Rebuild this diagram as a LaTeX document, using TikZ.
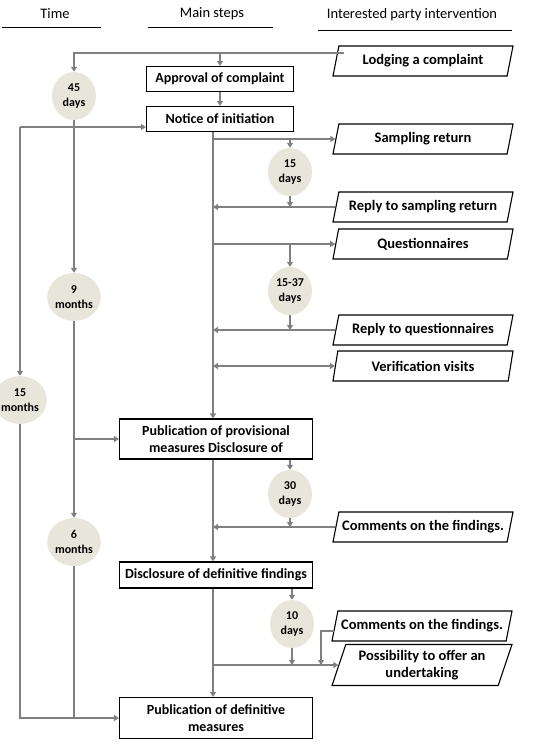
\documentclass[tikz,border=0pt]{standalone}
\usepackage{fontspec}
\setmainfont{Carlito}
\usetikzlibrary{shapes.geometric,arrows.meta}
\tikzset {>={Triangle[length=5pt,width=6pt]}}
\definecolor{flowgray}{RGB}{128,128,128}
\definecolor{timefill}{RGB}{232,229,218}

\begin{document}
\begin{tikzpicture}[x=1pt,y=-1pt,
  flow/.style={draw=flowgray,line width=2.4pt},
  stepbox/.style={draw,line width=1.1pt,rectangle,inner sep=1pt,align=center,
    font=\fontsize{14}{17}\selectfont\bfseries},
  party/.style={draw,line width=1.1pt,trapezium,trapezium left angle=65,
    trapezium right angle=115,trapezium stretches body=true,minimum width=180pt,
    minimum height=30pt,inner sep=0pt,align=center,font=\fontsize{14.5}{17}\selectfont\bfseries},
  period/.style={ellipse,fill=timefill,minimum width=44pt,minimum height=48pt,
    inner sep=0pt,align=center,font=\fontsize{12}{15}\selectfont\bfseries},
  head/.style={font=\fontsize{14.5}{17}\selectfont}]
\useasboundingbox (0,0) rectangle (549,756);
% headings
\node[head] (htime) at (55,14) {Time};
\node[head] (hmain) at (212,14) {Main steps};
\node[head] (hparty) at (412,15) {Interested party intervention};
\draw[line width=1pt] (2,27) -- (101,27);
\draw[line width=1pt] (148,27) -- (273,27);
\draw[line width=1pt] (318,30) -- (512,30);
% main steps
\node[stepbox,minimum width=147pt,minimum height=25pt] (approval) at (220,79) {Approval of complaint};
\node[stepbox,minimum width=147pt,minimum height=25pt] (notice) at (220,119) {Notice of initiation};
\node[stepbox,minimum width=193pt,minimum height=40pt] (prov) at (216,439) {Publication of provisional\\measures Disclosure of};
\node[stepbox,minimum width=193pt,minimum height=26pt] (disc) at (216,575) {Disclosure of definitive findings};
\node[stepbox,minimum width=193pt,minimum height=41pt] (pubdef) at (216,718) {Publication of definitive\\measures};
% interested parties
\node[party] (lodge) at (423,61) {Lodging a complaint};
\node[party] (samp) at (423,139) {Sampling return};
\node[party] (reply1) at (423,207) {Reply to sampling return};
\node[party] (quest) at (423,244) {Questionnaires};
\node[party] (reply2) at (423,330) {Reply to questionnaires};
\node[party] (verif) at (423,366) {Verification visits};
\node[party] (com1) at (423,527) {Comments on the findings.};
\node[party] (com2) at (422,626) {Comments on the findings.};
\node[party,minimum height=41pt] (offer) at (422,665) {Possibility to offer an\\undertaking};
% time periods
\node[period] (d45) at (74,96) {45\\days};
\node[period] (m9) at (74,297) {9\\months};
\node[period] (m15) at (20,400) {15\\months};
\node[period] (m6) at (74,542) {6\\months};
\node[period] (d15) at (290,172) {15\\days};
\node[period] (d1537) at (290,291) {15-37\\days};
\node[period] (d30) at (290,494) {30\\days};
\node[period] (d10) at (292,624) {10\\days};
\coordinate (spine) at (213,0);
\coordinate (lodgeout) at (344,53);
\coordinate (split) at (20,127);
\coordinate (kink) at (321,0);
% connectors
\begin{scope}[flow]
\draw[->] (lodgeout) -| (d45.north);
\draw[->] (approval.north |- lodgeout) -- (approval.north);
\draw[->] (approval) -- (notice);
\draw[->] (d45) -- (m9);
\draw[->] (split) -- (notice.west |- split);
\draw[->] (split) -- (m15.north);
\draw[->] (notice.south -| spine) -- (prov.north -| spine);
\draw[->] (spine |- samp.west) -- (samp.west);
\draw[->] (d15.north |- samp.west) -- (d15.north);
\draw[->] (d15.south) -- (d15.south |- reply1.west);
\draw[->] (reply1.west) -- (spine |- reply1.west);
\draw[->] (spine |- quest.west) -- (quest.west);
\draw[->] (d1537.north |- quest.west) -- (d1537.north);
\draw[->] (d1537.south) -- (d1537.south |- reply2.west);
\draw[->] (reply2.west) -- (spine |- reply2.west);
\draw[<->] (spine |- verif.west) -- (verif.west);
\draw[->] (m9.south |- prov.west) -- (prov.west);
\draw[->] (m9) -- (m6);
\draw[->] (prov.south -| spine) -- (disc.north -| spine);
\draw[->] (d30.north |- prov.south) -- (d30.north);
\draw[->] (d30.south) -- (d30.south |- com1.west);
\draw[->] (com1.west) -- (spine |- com1.west);
\draw[->] (disc.south -| spine) -- (pubdef.north -| spine);
\draw[->] (d10.north |- disc.south) -- (d10.north);
\draw[->] (d10.south) -- (d10.south |- offer.west);
\draw[->] ([yshift=-5pt]com2.west) -| (kink |- offer.west);
\draw[->] (spine |- offer.west) -- (offer.west);
\draw[->] (m15.south) |- (pubdef.west);
\draw (m6.south) -- (m6.south |- pubdef.west);
\end{scope}
\end{tikzpicture}
\end{document}
